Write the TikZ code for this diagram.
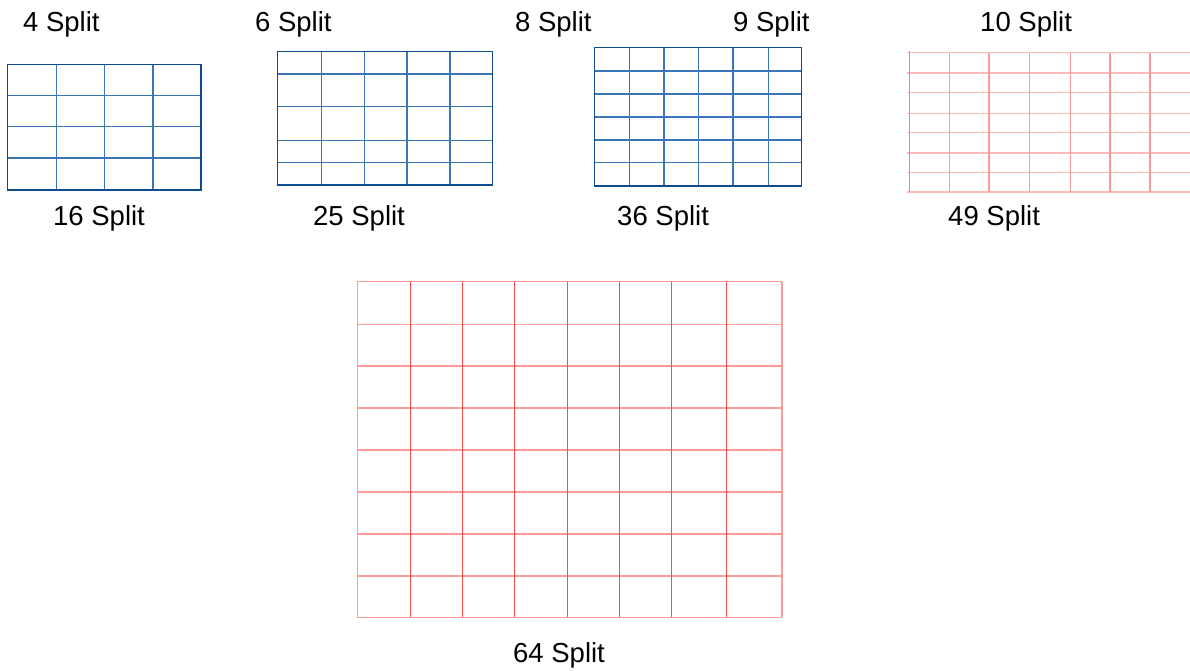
\documentclass[tikz,border=0pt]{standalone}
\usepackage{fontspec}
\setmainfont{Liberation Sans}
\definecolor{bframe}{HTML}{0E4C92}
\definecolor{bline}{HTML}{3B76B8}
\definecolor{rline}{HTML}{FF4A4A}
\definecolor{rlight}{HTML}{FF9A9A}
\definecolor{rpale}{HTML}{FFBABA}
\begin{document}
\begin{tikzpicture}[x=1pt,y=-1pt,
  lbl/.style={anchor=base west,inner sep=0pt,font=\fontsize{27.5}{32}\selectfont},
  bframestyle/.style={draw=bframe,line width=1.4pt},
  blinestyle/.style={draw=bline,line width=1.1pt},
  rv/.style={draw=rline,line width=1pt},
  rh/.style={draw=rlight,line width=1.3pt},
  rv4/.style={draw=rlight,line width=1.1pt},
  rh4/.style={draw=rpale,line width=1.3pt}]
\useasboundingbox (0,0) rectangle (1190,671);
% labels
\node[lbl] (l4) at (23,31.5) {4 Split};
\node[lbl] (l6) at (255,31.5) {6 Split};
\node[lbl] (l8) at (515,31.5) {8 Split};
\node[lbl] (l9) at (733,31.5) {9 Split};
\node[lbl] (l10) at (980,31.5) {10 Split};
\node[lbl] (l16) at (53,225) {16 Split};
\node[lbl] (l25) at (313,225) {25 Split};
\node[lbl] (l36) at (617,225) {36 Split};
\node[lbl] (l49) at (948,225) {49 Split};
\node[lbl] (l64) at (513,662) {64 Split};
% grid 16
\foreach \x in {56.7,104.3,153} \draw[blinestyle] (\x,64.5) -- (\x,190);
\foreach \y in {95.3,126.3,158} \draw[blinestyle] (7.5,\y) -- (201,\y);
\draw[bframestyle] (7.5,64.5) rectangle (201,190);
% grid 25
\foreach \x in {321.3,364.3,407,450} \draw[blinestyle] (\x,51.3) -- (\x,185);
\foreach \y in {74,106.7,140.7,162.7} \draw[blinestyle] (277.7,\y) -- (492.7,\y);
\draw[bframestyle] (277.7,51.3) rectangle (492.7,185);
% grid 36
\foreach \x in {629.7,664,698.3,733,768.3} \draw[blinestyle] (\x,47.3) -- (\x,186);
\foreach \y in {71,94,117,140,162.7} \draw[blinestyle] (594.7,\y) -- (801.7,\y);
\draw[bframestyle] (594.7,47.3) rectangle (801.7,186);
% grid 49
\foreach \y in {52.7,73,92.7,113.3,132.7,153,172.7,192} \draw[rh4] (907,\y) -- (1190,\y);
\foreach \x in {949.3,989,1029.3,1070.3,1110,1150} \draw[rv4] (\x,52.7) -- (\x,192);
\draw[draw=rline!70,line width=1pt] (909,51) -- (909,192);
% grid 64
\foreach \y in {281.7,324.3,366,408,450,492,534,576,617.3} \draw[rh] (357.3,\y) -- (782,\y);
\foreach \x in {410.3,462.3,514.3,567,619.3,671.7,726.7} \draw[rv] (\x,281.7) -- (\x,617.3);
\draw[draw=rlight,line width=1.6pt] (357.3,281.7) -- (357.3,617.3);
\draw[draw=rlight,line width=1.6pt] (782,281.7) -- (782,617.3);
\end{tikzpicture}
\end{document}
